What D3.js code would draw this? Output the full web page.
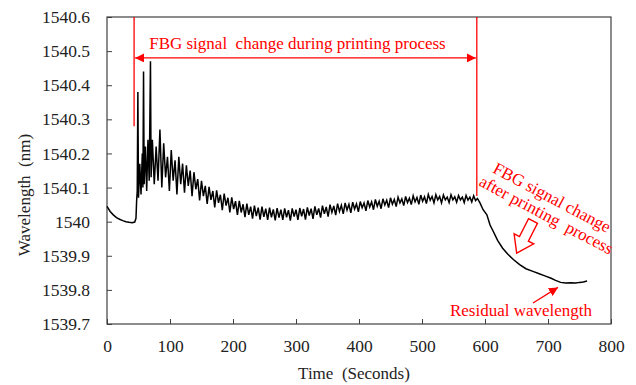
<!DOCTYPE html>
<html>
<head>
<meta charset="utf-8">
<script src="https://cdn.jsdelivr.net/npm/d3@7"></script>
<style>
  body { margin: 0; background: #fff; }
  text { font-family: "Liberation Serif", "Times New Roman", serif; white-space: pre; }
</style>
</head>
<body>
<svg id="chart"></svg>
<script>
// time axis and wavelength axis ticks
const xTicks = [0, 100, 200, 300, 400, 500, 600, 700, 800];
const yTicks = [1539.7, 1539.8, 1539.9, 1540, 1540.1, 1540.2, 1540.3, 1540.4, 1540.5, 1540.6];

// before printing (seconds, nm)
const beforePrint = [
  [0, 1540.045], [5, 1540.030], [10, 1540.020], [15, 1540.012], [20, 1540.007], [25, 1540.003],
  [30, 1540.000], [35, 1539.998], [40, 1539.997], [44, 1539.999], [46, 1540.010], [47, 1540.06]
];

// during printing: the spikes and the saw-tooth signal
const duringPrint = [
  [48, 1540.09], [49, 1540.38], [50, 1540.07], [52, 1540.17], [54, 1540.08], [56, 1540.20],
  [57, 1540.10], [58, 1540.44], [59, 1540.11], [61, 1540.22], [63, 1540.09], [65, 1540.24],
  [67, 1540.12], [69, 1540.47], [70, 1540.13], [72, 1540.24],
  [75, 1540.11], [78, 1540.22], [81, 1540.12], [84, 1540.27], [87, 1540.10], [90, 1540.23],
  [93, 1540.13], [96, 1540.19], [99, 1540.09], [102, 1540.21], [105, 1540.12], [108, 1540.18],
  [111, 1540.08], [114, 1540.19], [117, 1540.11], [120, 1540.17], [123, 1540.085], [126, 1540.165],
  [129, 1540.105], [132, 1540.15], [135, 1540.075], [138, 1540.145], [141, 1540.095], [144, 1540.125],
  [147, 1540.062], [150, 1540.12], [153, 1540.075], [156, 1540.105], [159, 1540.052], [162, 1540.102],
  [165, 1540.064], [168, 1540.09], [171, 1540.042], [174, 1540.092], [177, 1540.055], [180, 1540.079],
  [183, 1540.034], [186, 1540.082], [189, 1540.047], [192, 1540.07], [195, 1540.027], [198, 1540.071],
  [201, 1540.037], [204, 1540.06], [207, 1540.02], [210, 1540.061], [213, 1540.027], [216, 1540.051],
  [219, 1540.013], [222, 1540.053], [225, 1540.02], [228, 1540.044], [231, 1540.009], [234, 1540.047],
  [237, 1540.016], [240, 1540.041], [243, 1540.006], [246, 1540.044], [249, 1540.014], [252, 1540.038],
  [255, 1540.005], [258, 1540.041], [261, 1540.013], [264, 1540.036], [267, 1540.004], [270, 1540.04],
  [273, 1540.012], [276, 1540.035], [279, 1540.005], [282, 1540.039], [285, 1540.013], [288, 1540.034],
  [291, 1540.003], [294, 1540.039], [297, 1540.015], [300, 1540.035], [303, 1540.005], [306, 1540.04],
  [309, 1540.016], [312, 1540.037], [315, 1540.006], [318, 1540.042], [321, 1540.018], [324, 1540.038],
  [327, 1540.008], [330, 1540.045], [333, 1540.02], [336, 1540.039], [339, 1540.012], [342, 1540.047],
  [345, 1540.023], [348, 1540.043], [351, 1540.015], [354, 1540.05], [357, 1540.027], [360, 1540.046],
  [363, 1540.019], [366, 1540.053], [369, 1540.03], [372, 1540.048], [375, 1540.023], [378, 1540.055],
  [381, 1540.034], [384, 1540.051], [387, 1540.026], [390, 1540.057], [393, 1540.037], [396, 1540.052],
  [399, 1540.029], [402, 1540.059], [405, 1540.041], [408, 1540.055], [411, 1540.032], [414, 1540.062],
  [417, 1540.043], [420, 1540.058], [423, 1540.035], [426, 1540.065], [429, 1540.045], [432, 1540.06],
  [435, 1540.038], [438, 1540.067], [441, 1540.049], [444, 1540.063], [447, 1540.041], [450, 1540.07],
  [453, 1540.051], [456, 1540.065], [459, 1540.044], [462, 1540.072], [465, 1540.055], [468, 1540.067],
  [471, 1540.047], [474, 1540.074], [477, 1540.056], [480, 1540.069], [483, 1540.05], [486, 1540.076],
  [489, 1540.058], [492, 1540.071], [495, 1540.051], [498, 1540.078], [501, 1540.06], [504, 1540.073],
  [507, 1540.053], [510, 1540.08], [513, 1540.063], [516, 1540.074], [519, 1540.055], [522, 1540.079],
  [525, 1540.064], [528, 1540.074], [531, 1540.055], [534, 1540.078], [537, 1540.064], [540, 1540.072],
  [543, 1540.056], [546, 1540.079], [549, 1540.064], [552, 1540.073], [555, 1540.057], [558, 1540.077],
  [561, 1540.064], [564, 1540.072], [567, 1540.056], [570, 1540.077], [573, 1540.063], [576, 1540.072],
  [579, 1540.058], [582, 1540.076], [585, 1540.062]
];

// after printing: relaxation to residual wavelength
const afterPrint = [
  [588, 1540.068], [592, 1540.055], [597, 1540.035], [603, 1540.02], [608, 1539.99], [613, 1539.972],
  [620, 1539.945], [628, 1539.922], [636, 1539.905], [645, 1539.889], [655, 1539.874], [665, 1539.862],
  [675, 1539.855], [685, 1539.848], [695, 1539.841], [705, 1539.834], [712, 1539.828], [720, 1539.822],
  [728, 1539.82], [736, 1539.821], [744, 1539.82], [750, 1539.822], [756, 1539.823], [762, 1539.826]
];

const series = beforePrint.concat(duringPrint, afterPrint);

// annotation anchors (seconds / nm)
const printStart = 43, printEnd = 587;
const startLineTop = 1540.28, endLineTop = 1540.075;
const spanArrowY = 1540.48;
const residualPoint = [719, 1539.822];

const width = 636, height = 385;
const margin = { top: 17, right: 25, bottom: 61, left: 107 };
const red = "#ff0000";

const svg = d3.select("#chart")
  .attr("width", width)
  .attr("height", height);

const x = d3.scaleLinear().domain([0, 800]).range([margin.left, width - margin.right]);
const y = d3.scaleLinear().domain([1539.7, 1540.6]).range([height - margin.bottom, margin.top]);

const defs = svg.append("defs");
defs.append("marker")
  .attr("id", "head")
  .attr("viewBox", "0 0 10 10")
  .attr("refX", 10).attr("refY", 5)
  .attr("markerWidth", 9).attr("markerHeight", 9)
  .attr("markerUnits", "userSpaceOnUse")
  .attr("orient", "auto-start-reverse")
  .append("path")
  .attr("d", "M0,0 L10,5 L0,10 Z")
  .attr("fill", red);

// axes with ticks pointing inwards
const xAxis = svg.append("g")
  .attr("transform", `translate(0,${y.range()[0]})`)
  .call(d3.axisBottom(x).tickValues(xTicks).tickSizeInner(-5).tickSizeOuter(0).tickPadding(16));

const yAxis = svg.append("g")
  .attr("transform", `translate(${x.range()[0]},0)`)
  .call(d3.axisLeft(y).tickValues(yTicks).tickSizeInner(-5).tickSizeOuter(0).tickPadding(17)
    .tickFormat(d => String(+d.toFixed(1))));

[xAxis, yAxis].forEach(a => {
  a.attr("font-family", null);
  a.selectAll("text").attr("font-size", 17.5).attr("fill", "#222");
  a.selectAll("line").attr("stroke", "#404040");
  a.select(".domain").remove();
});

// frame
svg.append("rect")
  .attr("x", x.range()[0])
  .attr("y", y.range()[1])
  .attr("width", x.range()[1] - x.range()[0])
  .attr("height", y.range()[0] - y.range()[1])
  .attr("fill", "none")
  .attr("stroke", "#404040")
  .attr("stroke-width", 1.2);

// signal
const line = d3.line().x(d => x(d[0])).y(d => y(d[1]));
svg.append("path")
  .datum(series)
  .attr("d", line)
  .attr("fill", "none")
  .attr("stroke", "#000")
  .attr("stroke-width", 1.5)
  .attr("stroke-linejoin", "miter");

// axis titles
svg.append("text")
  .attr("x", 354).attr("y", 379)
  .attr("text-anchor", "middle")
  .attr("font-size", 17)
  .attr("fill", "#222")
  .text("Time  (Seconds)");

svg.append("text")
  .attr("transform", "translate(30,195) rotate(-90)")
  .attr("text-anchor", "middle")
  .attr("font-size", 17)
  .attr("fill", "#222")
  .text("Wavelength  (nm)");

// printing window markers
const ann = svg.append("g").attr("fill", red).attr("stroke", red);

ann.append("line")
  .attr("x1", x(printStart)).attr("x2", x(printStart))
  .attr("y1", y.range()[1]).attr("y2", y(startLineTop))
  .attr("stroke-width", 1.3);
ann.append("line")
  .attr("x1", x(printEnd)).attr("x2", x(printEnd))
  .attr("y1", y.range()[1]).attr("y2", y(endLineTop))
  .attr("stroke-width", 1.3);

ann.append("line")
  .attr("x1", x(printStart) + 1).attr("x2", x(printEnd) - 1)
  .attr("y1", y(spanArrowY)).attr("y2", y(spanArrowY))
  .attr("stroke-width", 1.3)
  .attr("marker-start", "url(#head)")
  .attr("marker-end", "url(#head)");

ann.append("text")
  .attr("x", (x(printStart) + x(printEnd)) / 2 - 8)
  .attr("y", y(spanArrowY) - 9)
  .attr("text-anchor", "middle")
  .attr("font-size", 17)
  .attr("stroke", "none")
  .text("FBG signal  change during printing process");

// after printing note, tilted
const note = ann.append("g")
  .attr("transform", "translate(490,171) rotate(28)")
  .attr("stroke", "none")
  .attr("font-size", 17);
note.append("text").attr("x", 2).attr("y", 0).text("FBG signal change");
note.append("text").attr("x", -4).attr("y", 18).text("after printing  process");

// hollow block arrow
ann.append("path")
  .attr("transform", "translate(533,221) rotate(27)")
  .attr("d", "M-5,0 L5,0 L5,20 L11,20 L0,36 L-11,20 L-5,20 Z")
  .attr("fill", "none")
  .attr("stroke-width", 1.4);

// residual wavelength pointer
ann.append("line")
  .attr("x1", 533).attr("y1", 303)
  .attr("x2", x(residualPoint[0]) - 2).attr("y2", y(residualPoint[1]) + 5)
  .attr("stroke-width", 1.3)
  .attr("marker-end", "url(#head)");

ann.append("text")
  .attr("x", 521).attr("y", 316)
  .attr("text-anchor", "middle")
  .attr("font-size", 17)
  .attr("stroke", "none")
  .text("Residual wavelength");
</script>
</body>
</html>
